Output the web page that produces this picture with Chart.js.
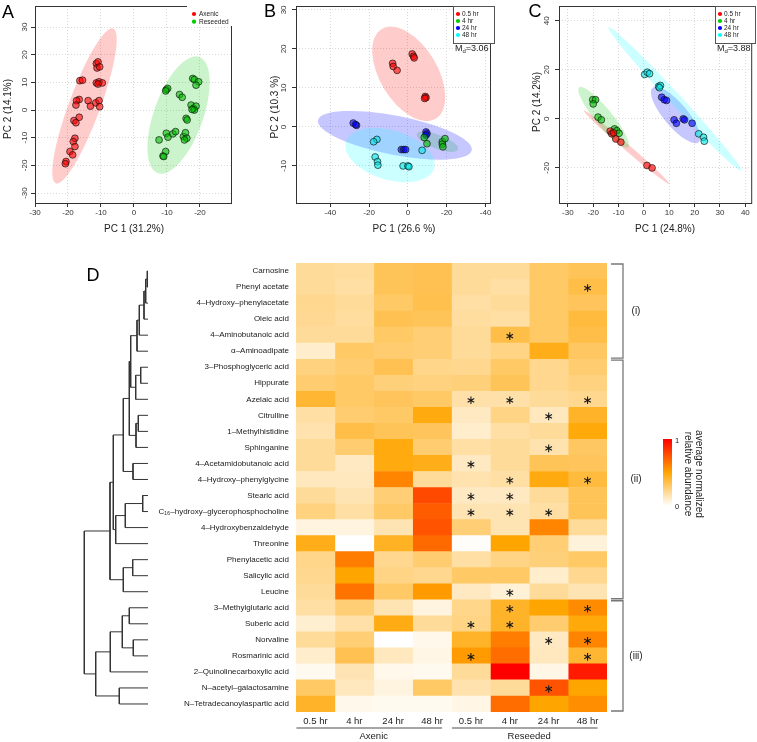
<!DOCTYPE html>
<html>
<head>
<meta charset="utf-8">
<script src="https://cdn.jsdelivr.net/npm/chart.js@4.4.1/dist/chart.umd.min.js"></script>
<style>
    html, body { margin: 0; padding: 0; background: #fff; }
    #page { position: relative; width: 757px; height: 742px; overflow: hidden; }
    #page canvas { position: absolute; }
</style>
</head>
<body>
<div id="page">
    <canvas id="pca-a" width="250" height="240" style="left:0;top:0"></canvas>
    <canvas id="pca-b" width="250" height="240" style="left:250px;top:0"></canvas>
    <canvas id="pca-c" width="257" height="240" style="left:500px;top:0"></canvas>
    <canvas id="heat" width="757" height="492" style="left:0;top:250px"></canvas>
    <canvas id="dendro" width="72" height="449" style="left:80px;top:263px"></canvas>
</div>
<script>
// ---- PCA scores (PC1, PC2) ----
const aAxenic = [[-11.4,16.8],[-10.9,17.4],[-11.2,15.2],[-10.4,15.6],[-16.4,10.6],[-15.6,10.8],[-11.4,9.8],[-10.6,10.2],[-9.6,9.8],[-10.9,9.4],[-16.6,3.8],[-17.4,3.4],[-17.6,1.8],[-13.9,3.4],[-13.2,1.4],[-11.6,2.6],[-10.6,3.4],[-10.4,1.2],[-16.6,-2.6],[-18.2,-3.8],[-17.6,-4.6],[-17.9,-10.2],[-18.4,-11.4],[-17.9,-13.2],[-19.4,-15],[-18.6,-16.2],[-20.6,-18.6],[-20.8,-19.4]];
const aReseeded = [[9.8,7.4],[10.2,7.8],[9.6,6.9],[13.8,5.6],[14.6,4.6],[17.8,11.4],[18.3,11],[19.6,10.2],[18.8,9],[17.3,1.8],[18,0.6],[18.8,1.4],[18.3,0],[17.6,0.2],[15.8,-3],[16.1,-3.6],[7.6,-10.8],[9.8,-8.4],[10.3,-9.8],[11.8,-8.6],[12.6,-7.8],[15,-9.6],[15.6,-8.2],[16,-10.2],[15.3,-10.8],[8.8,-16.6],[9.6,-15],[9,-16.8]];

const b05 = [[2.2,18.7],[2.9,18.1],[3.2,17.7],[-7.9,16.3],[-7.6,15.5],[-5.6,14.5],[8.9,7.8],[9.3,7.5],[8.6,7.3]];
const b4 = [[8.4,-2.7],[9.8,-4.3],[17.7,-3.8],[17.7,-4.4],[18,-5.1],[19.1,-3]];
const b24 = [[-28.2,1],[-26.5,0.4],[-27,0.6],[9.3,-1.3],[9.8,-1.7],[9.3,-2.1],[-3.4,-5.8],[-2.2,-5.8],[-1.2,-5.8]];
const b48 = [[-16,-3.2],[-17.7,-3.8],[-16.9,-7.7],[-15.7,-8.9],[-15.5,-9.8],[-2.5,-10],[0,-10],[0.5,-10.2],[7.3,-6]];

const c05 = [[-13.3,-5],[-12.7,-6.1],[-12,-5.7],[-11.1,-8.2],[-9.1,-9.5],[1.2,-19],[3.2,-20]];
const c4 = [[-20.2,7.8],[-19.1,7.8],[-20,6.1],[-18.1,0.7],[-16.8,-0.4],[-11.6,-4.1],[-10.7,-4.8],[-9.8,-5.9]];
const c24 = [[7,8.8],[8,7.8],[8.9,7.5],[11.9,-0.4],[12.8,-1.8],[15.5,0],[16,-0.4],[19,-1.8]];
const c48 = [[0.3,18.1],[1.3,19],[2.2,18.4],[5.8,13.2],[6.5,13.6],[6.1,12.7],[21.6,-6.1],[23.5,-7.5],[23.8,-9.1]];

// confidence ellipses: [centre x, centre y, major-axis tip x, tip y, minor/major ratio]
const aEllipses = [[-15, 1.5, -6.3, 29.5, 0.19], [13.5, -1.8, 19.8, 19.2, 0.40]];
const bEllipses = [[0.4, 13.6, -13.5, 25.1, 0.55], [15.2, -3.8, 25.8, -5.8, 0.32], [-6.75, -2.15, 32.9, -6, 0.25], [-9.25, -7.2, 13.5, -10.6, 0.54]];
const cEllipses = [[-6.85, -11.55, 10, -26.5, 0.055], [-15.9, 0.65, -6.2, -11.6, 0.22], [12.5, 1.6, 21.6, -9.5, 0.33], [12.2, 8.15, 38.4, -21.1, 0.06]];

const aTicksX = [-30, -20, -10, 0, 10, 20];
const aTickLabelsX = ['-30', '-20', '-10', '0', '-10', '-20'];
const aTicksY = [-30, -20, -10, 0, 10, 20, 30];
const bTicksX = [-40, -20, 0, 20, 40];
const bTickLabelsX = ['-40', '-20', '0', '-20', '-40'];
const bTicksY = [-10, 0, 10, 20, 30];
const cTicksX = [-30, -20, -10, 0, 10, 20, 30, 40];
const cTicksY = [-20, 0, 20, 40];

const timeLabels = ['0.5 hr', '4 hr', '24 hr', '48 hr'];
const groupLabels = ['Axenic', 'Reseeded'];

// ---- heatmap (average normalized relative abundance) ----
const metabolites = ['Carnosine', 'Phenyl acetate', '4–Hydroxy–phenylacetate', 'Oleic acid', '4–Aminobutanoic acid',
    'α–Aminoadipate', '3–Phosphoglyceric acid', 'Hippurate', 'Azelaic acid', 'Citrulline', '1–Methylhistidine',
    'Sphinganine', '4–Acetamidobutanoic acid', '4–Hydroxy–phenylglycine', 'Stearic acid',
    'C₁₆–hydroxy–glycerophosphocholine', '4–Hydroxybenzaldehyde', 'Threonine', 'Phenylacetic acid',
    'Salicylic acid', 'Leucine', '3–Methylglutaric acid', 'Suberic acid', 'Norvaline', 'Rosmarinic acid',
    '2–Quinolinecarboxylic acid', 'N–acetyl–galactosamine', 'N–Tetradecanoylaspartic acid'];
const axenic05 = [.20,.20,.22,.21,.20,.10,.25,.28,.40,.18,.16,.20,.20,.13,.20,.25,.06,.45,.23,.22,.20,.18,.09,.20,.10,.03,.30,.42];
const axenic4 = [.19,.18,.20,.19,.20,.30,.28,.30,.30,.28,.36,.28,.12,.13,.15,.18,.06,.00,.62,.50,.65,.27,.17,.27,.34,.15,.13,.04];
const axenic24 = [.33,.33,.30,.34,.30,.28,.34,.26,.32,.30,.33,.47,.47,.60,.27,.30,.15,.43,.22,.24,.30,.15,.46,.00,.13,.04,.06,.03];
const axenic48 = [.34,.34,.35,.33,.27,.27,.23,.25,.30,.47,.32,.28,.45,.20,.78,.72,.75,.68,.28,.22,.53,.06,.20,.04,.05,.03,.30,.03];
const reseeded05 = [.20,.20,.18,.19,.20,.20,.22,.26,.17,.12,.10,.18,.12,.16,.12,.15,.27,.01,.18,.30,.12,.23,.24,.42,.53,.20,.16,.05];
const reseeded4 = [.20,.18,.20,.18,.36,.24,.30,.33,.17,.24,.18,.20,.20,.18,.12,.15,.15,.50,.24,.30,.08,.42,.42,.62,.67,1.0,.20,.67];
const reseeded24 = [.30,.30,.30,.30,.30,.45,.22,.22,.20,.13,.20,.16,.33,.47,.20,.18,.60,.27,.26,.10,.20,.50,.28,.12,.13,.05,.75,.50];
const reseeded48 = [.33,.36,.32,.38,.36,.31,.28,.25,.22,.42,.48,.31,.32,.38,.33,.33,.20,.07,.30,.22,.15,.58,.48,.60,.40,.92,.50,.57];
// significant cells: [row, column]
const sigCells = [[1,7],[4,5],[8,4],[8,5],[8,7],[9,6],[11,6],[12,4],[13,5],[13,7],[14,4],[14,5],[15,4],[15,5],[15,6],
    [20,5],[21,5],[21,7],[22,4],[22,5],[23,6],[23,7],[24,4],[24,7],[26,6]];
// clusters (i)-(iii): first row, last row
const clusterNames = ['(i)', '(ii)', '(iii)'];
const clusterRows = [[0, 5], [6, 20], [21, 27]];

// row dendrogram, hclust style: negative = leaf (1-based row), positive = earlier merge
const dendroMerge = [[-1,-2],[1,-3],[2,-4],[3,-5],[4,-6],[-7,-8],[6,-9],[5,7],[-10,-11],[9,-12],[8,10],[-13,-14],[11,12],
    [-15,-16],[14,-17],[15,-18],[13,16],[-19,-20],[18,-21],[17,19],[-22,-23],[-24,-25],[21,22],[23,-26],[-27,-28],[24,25],[20,26]];
const dendroHeight = [0.7, 2.3, 4, 8.7, 11, 7.3, 12.3, 17.3, 9.7, 12, 18.7, 15, 24.7, 5.3, 22.7, 32.3, 34.7, 15.3, 24.7, 38,
    18.7, 14.7, 25.7, 37.7, 28.7, 52.3, 63.7];

const FONT = '"Liberation Sans", Arial, Helvetica, sans-serif';
Chart.defaults.font.family = FONT;
Chart.defaults.color = '#222';

const pointFill = ['rgba(255,0,0,0.6)', 'rgba(0,190,0,0.6)', 'rgba(0,0,255,0.6)', 'rgba(0,230,230,0.6)'];
const ellipseFill = ['rgba(255,0,0,0.2)', 'rgba(0,200,0,0.2)', 'rgba(0,0,255,0.22)', 'rgba(0,255,255,0.2)'];
const legendDot = ['#ff0000', '#00cc00', '#0000ff', '#00ffff'];

const heatStops = [[0, [255, 255, 255]], [0.5, [255, 165, 0]], [1, [255, 0, 0]]];

function heatColor(v) {
    for (let i = 1; i < heatStops.length; i++) {
        const [t0, c0] = heatStops[i - 1];
        const [t1, c1] = heatStops[i];
        if (v <= t1) {
            const f = (v - t0) / (t1 - t0);
            return 'rgb(' + c0.map((c, j) => Math.round(c + (c1[j] - c) * f)).join(',') + ')';
        }
    }
    return 'rgb(255,0,0)';
}

function pcaDecor(p) {
    return {
        id: 'pcaDecor',
        beforeDatasetsDraw(chart) {
            const { ctx, chartArea: a, scales: { x, y } } = chart;
            ctx.save();
            ctx.beginPath();
            ctx.rect(a.left, a.top, a.right - a.left, a.bottom - a.top);
            ctx.clip();
            p.ellipses.forEach(([cx, cy, tx, ty, r], i) => {
                const px = x.getPixelForValue(cx), py = y.getPixelForValue(cy);
                const dx = x.getPixelForValue(tx) - px, dy = y.getPixelForValue(ty) - py;
                const len = Math.hypot(dx, dy);
                ctx.beginPath();
                ctx.ellipse(px, py, len, len * r, Math.atan2(dy, dx), 0, Math.PI * 2);
                ctx.fillStyle = ellipseFill[p.colors[i]];
                ctx.fill();
            });
            ctx.restore();
        },
        afterDraw(chart) {
            const { ctx, chartArea: a, scales: { y } } = chart;
            ctx.save();
            ctx.strokeStyle = '#333';
            ctx.lineWidth = 1;
            ctx.strokeRect(a.left + 0.5, a.top + 0.5, a.right - a.left - 1, a.bottom - a.top);

            ctx.fillStyle = '#333';
            ctx.font = '8px ' + FONT;
            ctx.textAlign = 'center';
            ctx.textBaseline = 'middle';
            p.yTicks.forEach(v => {
                ctx.save();
                ctx.translate(a.left - p.yLabelGap, y.getPixelForValue(v));
                ctx.rotate(-Math.PI / 2);
                ctx.fillText(String(v), 0, 0);
                ctx.restore();
            });

            ctx.fillStyle = '#222';
            ctx.font = '10px ' + FONT;
            ctx.fillText(p.xTitle, p.xTitlePos[0], p.xTitlePos[1]);
            ctx.save();
            ctx.translate(p.yTitlePos[0], p.yTitlePos[1]);
            ctx.rotate(-Math.PI / 2);
            ctx.fillText(p.yTitle, 0, 0);
            ctx.restore();

            ctx.fillStyle = '#000';
            ctx.font = '18px ' + FONT;
            ctx.fillText(p.letter, p.letterPos[0], p.letterPos[1]);

            const [lx, ly, lw, lh, dotDx, textDx, gap] = p.legendBox;
            ctx.fillStyle = '#fff';
            ctx.fillRect(lx, ly, lw, lh);
            if (p.legendBorder) {
                ctx.strokeStyle = '#555';
                ctx.strokeRect(lx + 0.5, ly + 0.5, lw, lh);
            }
            ctx.font = '6.5px ' + FONT;
            ctx.textAlign = 'left';
            p.legend.forEach((lab, i) => {
                const yy = ly + 8 + i * gap;
                ctx.fillStyle = legendDot[p.colors[i]];
                ctx.beginPath();
                ctx.arc(lx + dotDx, yy, 2.1, 0, Math.PI * 2);
                ctx.fill();
                ctx.fillStyle = '#222';
                ctx.fillText(lab, lx + textDx, yy + 0.5);
            });

            if (p.md) {
                const [mx, my] = p.mdPos;
                ctx.textBaseline = 'alphabetic';
                ctx.fillStyle = '#222';
                ctx.font = '9px ' + FONT;
                ctx.fillText('M', mx, my);
                let w = ctx.measureText('M').width;
                ctx.font = '6px ' + FONT;
                ctx.fillText('d', mx + w, my + 2);
                w += ctx.measureText('d').width;
                ctx.font = '9px ' + FONT;
                ctx.fillText('=' + p.md, mx + w, my);
            }
            ctx.restore();
        },
    };
}

function pcaChart(id, p) {
    const axisCommon = {
        grid: { color: '#d8d8d8', lineWidth: 1, tickColor: '#333', tickLength: 4 },
        border: { display: false, dash: [1, 2] },
    };
    return new Chart(document.getElementById(id), {
        type: 'scatter',
        data: {
            datasets: p.series.map((pts, i) => ({
                label: p.legend[i],
                data: pts.map(([x, y]) => ({ x, y })),
                backgroundColor: pointFill[p.colors[i]],
                borderColor: 'rgba(20,20,20,0.85)',
                borderWidth: 0.8,
                pointRadius: 3.4,
            })),
        },
        options: {
            responsive: false,
            animation: false,
            events: [],
            layout: { padding: { left: 0, top: 6, right: p.padRight, bottom: 0 } },
            plugins: { legend: { display: false }, tooltip: { enabled: false } },
            scales: {
                x: {
                    ...axisCommon,
                    type: 'linear', min: p.xRange[0], max: p.xRange[1],
                    afterBuildTicks: s => { s.ticks = p.xTicks.map(v => ({ value: v })); },
                    afterFit: s => { s.height = 37; },
                    ticks: {
                        font: { size: 8 }, color: '#333', padding: 1, maxRotation: 0, autoSkip: false,
                        callback: (v, i) => p.xTickLabels[i],
                    },
                },
                y: {
                    ...axisCommon,
                    type: 'linear', min: p.yRange[0], max: p.yRange[1],
                    afterBuildTicks: s => { s.ticks = p.yTicks.map(v => ({ value: v })); },
                    afterFit: s => { s.width = p.left; },
                    ticks: { display: false },
                },
            },
        },
        plugins: [pcaDecor(p)],
    });
}

pcaChart('pca-a', {
    series: [aAxenic, aReseeded], colors: [0, 1], legend: groupLabels,
    ellipses: aEllipses, xRange: [-30, 29.7], yRange: [-33.6, 37.6],
    xTicks: aTicksX, xTickLabels: aTickLabelsX, yTicks: aTicksY,
    left: 35, padRight: 18, yLabelGap: 10,
    xTitle: 'PC 1 (31.2%)', xTitlePos: [134, 229], yTitle: 'PC 2 (14.1%)', yTitlePos: [8, 109],
    letter: 'A', letterPos: [8, 13], legendBox: [187, 6, 45, 20, 7, 12, 7.7], legendBorder: false,
});

pcaChart('pca-b', {
    series: [b05, b4, b24, b48], colors: [0, 1, 2, 3], legend: timeLabels,
    ellipses: bEllipses, xRange: [-57.7, 42.8], yRange: [-19.5, 31],
    xTicks: bTicksX, xTickLabels: bTickLabelsX, yTicks: bTicksY,
    left: 46, padRight: 9, yLabelGap: 12,
    xTitle: 'PC 1 (26.6 %)', xTitlePos: [154, 229], yTitle: 'PC 2 (10.3 %)', yTitlePos: [25, 107],
    letter: 'B', letterPos: [20, 12], legendBox: [203, 6, 41, 37, 5, 9, 7], legendBorder: true,
    md: '3.06', mdPos: [205, 51],
});

pcaChart('pca-c', {
    series: [c05, c4, c24, c48], colors: [0, 1, 2, 3], legend: timeLabels,
    ellipses: cEllipses, xRange: [-33.5, 42.7], yRange: [-34.3, 46],
    xTicks: cTicksX, xTickLabels: cTicksX.map(String), yTicks: cTicksY,
    left: 59, padRight: 2, yLabelGap: 12,
    xTitle: 'PC 1 (24.8%)', xTitlePos: [165, 229], yTitle: 'PC 2 (14.2%)', yTitlePos: [37, 102],
    letter: 'C', letterPos: [35, 12], legendBox: [215, 6, 40, 37, 5, 9, 7], legendBorder: true,
    md: '3.88', mdPos: [217, 51],
});

// ---- heatmap ----
const heatColumns = [axenic05, axenic4, axenic24, axenic48, reseeded05, reseeded4, reseeded24, reseeded48];

function drawAsterisk(ctx, cx, cy, r) {
    ctx.beginPath();
    for (let k = 0; k < 3; k++) {
        const ang = Math.PI / 2 + k * Math.PI / 3;
        ctx.moveTo(cx + r * Math.cos(ang), cy + r * Math.sin(ang));
        ctx.lineTo(cx - r * Math.cos(ang), cy - r * Math.sin(ang));
    }
    ctx.stroke();
}

const heatDecor = {
    id: 'heatDecor',
    afterDraw(chart) {
        const { ctx, scales: { x, y } } = chart;
        ctx.save();
        // significance marks
        ctx.strokeStyle = '#1a1a1a';
        ctx.lineWidth = 1.1;
        sigCells.forEach(([r, c]) => {
            drawAsterisk(ctx, x.getPixelForValue(c + 0.5), y.getPixelForValue(r) + 1, 3.8);
        });

        // group underlines
        ctx.strokeStyle = '#888';
        ctx.lineWidth = 1.5;
        [[0, 3], [4, 7]].forEach(([c0, c1]) => {
            ctx.beginPath();
            ctx.moveTo(x.getPixelForValue(c0 + 0.5) - 19, 478);
            ctx.lineTo(x.getPixelForValue(c1 + 0.5) + 10, 478);
            ctx.stroke();
        });

        // cluster brackets
        const half = (y.getPixelForValue(1) - y.getPixelForValue(0)) / 2;
        const bx = x.right + 16;
        ctx.strokeStyle = '#777';
        ctx.lineWidth = 1.3;
        ctx.fillStyle = '#222';
        ctx.font = '10px ' + FONT;
        ctx.textAlign = 'center';
        ctx.textBaseline = 'middle';
        clusterRows.forEach(([r0, r1], i) => {
            const top = y.getPixelForValue(r0) - half + 1;
            const bot = y.getPixelForValue(r1) + half - 1;
            ctx.beginPath();
            ctx.moveTo(bx - 12, top);
            ctx.lineTo(bx, top);
            ctx.lineTo(bx, bot);
            ctx.lineTo(bx - 12, bot);
            ctx.stroke();
            ctx.fillText(clusterNames[i], bx + 13, (top + bot) / 2);
        });

        // colour key
        const kx = 663, ktop = 189, kbot = 256;
        const grad = ctx.createLinearGradient(0, ktop, 0, kbot);
        for (let t = 0; t <= 1.0001; t += 0.1) grad.addColorStop(Math.min(t, 1), heatColor(Math.max(1 - t, 0)));
        ctx.fillStyle = grad;
        ctx.fillRect(kx, ktop, 9, kbot - ktop);
        ctx.fillStyle = '#222';
        ctx.font = '7.5px ' + FONT;
        ctx.textAlign = 'left';
        ctx.fillText('1', kx + 12, ktop + 2);
        ctx.fillText('0', kx + 12, kbot + 1);
        ctx.font = '10px ' + FONT;
        ctx.textAlign = 'center';
        ctx.save();
        ctx.translate(693, 224);
        ctx.rotate(Math.PI / 2);
        ctx.fillText('average normalized', 0, -5.5);
        ctx.fillText('relative abundance', 0, 5.5);
        ctx.restore();

        ctx.fillStyle = '#000';
        ctx.font = '18px ' + FONT;
        ctx.fillText('D', 93, 26);
        ctx.restore();
    },
};

new Chart(document.getElementById('heat'), {
    type: 'bar',
    data: {
        labels: metabolites,
        datasets: heatColumns.map((vals, c) => ({
            label: groupLabels[c >> 2] + ' ' + timeLabels[c % 4],
            data: vals.map(() => 1),
            backgroundColor: vals.map(heatColor),
            borderWidth: 0,
            barPercentage: 1,
            categoryPercentage: 1,
        })),
    },
    options: {
        indexAxis: 'y',
        responsive: false,
        animation: false,
        events: [],
        layout: { padding: { left: 0, right: 150, top: 13, bottom: 0 } },
        plugins: { legend: { display: false }, tooltip: { enabled: false } },
        scales: {
            x: {
                type: 'linear', stacked: true, min: 0, max: 8, weight: 0,
                afterBuildTicks: s => { s.ticks = heatColumns.map((_, c) => ({ value: c + 0.5 })); },
                afterFit: s => { s.height = 17; },
                grid: { display: false, drawTicks: false },
                border: { display: false },
                ticks: { font: { size: 9.5 }, color: '#222', padding: 4, maxRotation: 0, autoSkip: false,
                    callback: (v, i) => timeLabels[i % 4] },
            },
            x2: {
                type: 'category', labels: groupLabels, position: 'bottom', offset: true, weight: 1,
                afterFit: s => { s.height = 13; },
                grid: { display: false, drawTicks: false },
                border: { display: false },
                ticks: { font: { size: 9.5 }, color: '#222', padding: 2 },
            },
            y: {
                stacked: true,
                afterFit: s => { s.width = 296; },
                grid: { display: false, drawTicks: false },
                border: { display: false },
                ticks: { font: { size: 8 }, color: '#1a1a1a', padding: 7, autoSkip: false },
            },
        },
    },
    plugins: [heatDecor],
});

// ---- dendrogram ----
const dendroNodes = [];
const dendroSegments = [];
function dendroNode(id) {
    return id < 0 ? { h: 0, y: -id - 1 } : dendroNodes[id - 1];
}
dendroMerge.forEach(([l, r], k) => {
    const A = dendroNode(l), B = dendroNode(r), h = dendroHeight[k];
    dendroSegments.push([{ x: A.h, y: A.y }, { x: h, y: A.y }, { x: h, y: B.y }, { x: B.h, y: B.y }]);
    dendroNodes.push({ h, y: (A.y + B.y) / 2 });
});

new Chart(document.getElementById('dendro'), {
    type: 'scatter',
    data: {
        datasets: dendroSegments.map(pts => ({
            data: pts, showLine: true, pointRadius: 0, borderColor: '#333', borderWidth: 1, clip: false,
        })),
    },
    options: {
        responsive: false,
        animation: false,
        events: [],
        layout: { padding: { left: 0, right: 4, top: 0, bottom: 0 } },
        plugins: { legend: { display: false }, tooltip: { enabled: false } },
        scales: {
            x: { display: false, reverse: true, min: 0, max: 68 },
            y: { display: false, reverse: true, min: -0.5, max: 27.5 },
        },
    },
});
</script>
</body>
</html>
